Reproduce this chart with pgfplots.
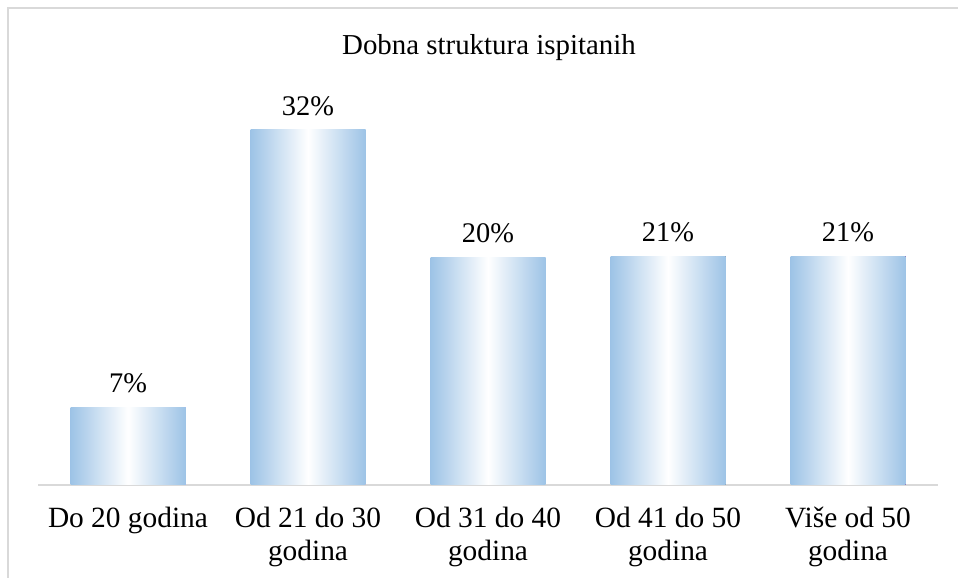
\documentclass[border=0pt]{standalone}
\usepackage{fontspec}
\setmainfont{Liberation Serif}
\usepackage{pgfplots}
\pgfplotsset{compat=1.18}
\definecolor{barblue}{RGB}{157,195,230}
\definecolor{framegray}{RGB}{217,217,217}
\begin{document}
\begin{tikzpicture}[x=1bp,y=1bp]
\useasboundingbox (0,0) rectangle (958,578);
\draw[framegray, line width=1.5bp] (8,-20) rectangle (990,570);
\node[font=\fontsize{29}{33}\selectfont] at (489,530) {Dobna struktura ispitanih};
\begin{axis}[
  at={(38bp,93bp)}, anchor=south west,
  scale only axis, width=900bp, height=355bp,
  xmin=-0.5, xmax=4.5, ymin=0, ymax=32,
  hide y axis, axis x line*=bottom,
  x axis line style={framegray, line width=1.5bp, -},
  clip=false,
  xtick={0,1,2,3,4},
  xticklabels={Do 20 godina, {Od 21 do 30\\godina}, {Od 31 do 40\\godina}, {Od 41 do 50\\godina}, {Više od 50\\godina}},
  major tick length=0pt,
  xticklabel style={align=center, font=\fontsize{29.5}{33}\selectfont, yshift=-19bp},
  ybar, bar width=115bp, bar shift=0pt,
  nodes near coords,
  point meta=explicit symbolic,
  nodes near coords style={font=\fontsize{28.5}{32}\selectfont, text=black, yshift=11bp},
  every axis plot/.append style={draw=none, left color=barblue, right color=barblue, middle color=white},
]
\addplot coordinates {(0,7) [7\%]};
\addplot coordinates {(1,32) [32\%]};
\addplot coordinates {(2,20.5) [20\%]};
\addplot coordinates {(3,20.6) [21\%]};
\addplot coordinates {(4,20.6) [21\%]};
\end{axis}
\end{tikzpicture}
\end{document}
